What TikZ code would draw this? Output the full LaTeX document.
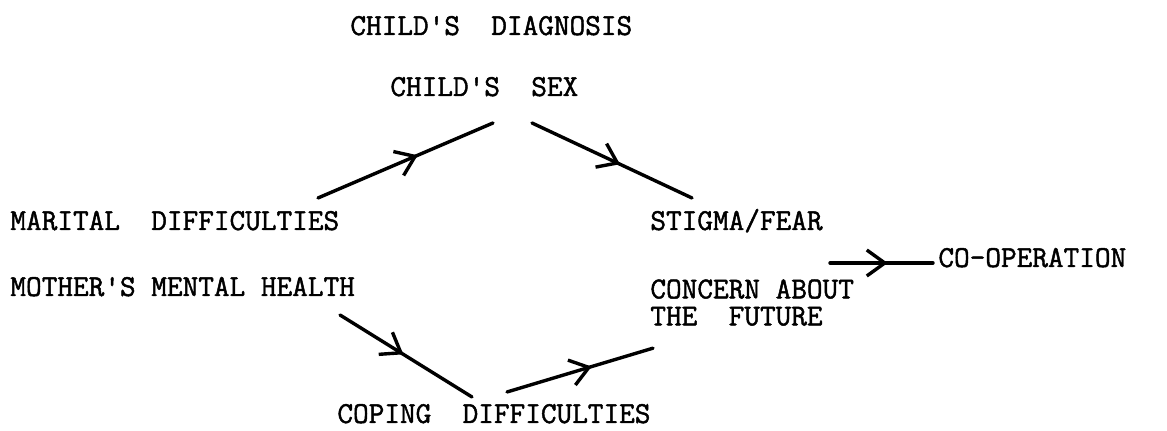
\documentclass[tikz,border=0pt]{standalone}
\usepackage{fontspec}
\setmonofont[RawFeature={embolden=1.5}]{Latin Modern Mono}
\usetikzlibrary{arrows.meta, decorations.markings}

\tikzset{
  label/.style={font=\ttfamily\fontsize{15.2}{13.5}\selectfont, anchor=base west, inner sep=0pt, align=left},
  flow/.style={line width=1.7pt, line cap=round,
    postaction={decorate, decoration={markings,
      mark=at position #1 with {\arrow{Straight Barb[length=9pt, width=13pt]}}}}},
  flow/.default=0.55
}

\begin{document}
\begin{tikzpicture}[x=0.5pt, y=0.5pt]
  \useasboundingbox (0,0) rectangle (1167,431);

  % top
  \node[label] (diag) at (350,396) {CHILD'S~~DIAGNOSIS};
  \node[label] (sex) at (390,335) {CHILD'S~~SEX};

  % left
  \node[label] (marital) at (10,201) {MARITAL~~DIFFICULTIES};
  \node[label] (mother) at (10,135) {MOTHER'S MENTAL HEALTH};

  % right
  \node[label] (stigma) at (650,201) {STIGMA/FEAR};
  \node[label, anchor=north west] (concern) at (650,152) {CONCERN ABOUT\\THE~~FUTURE};
  \node[label] (coop) at (938,164) {CO-OPERATION};

  % bottom
  \node[label] (coping) at (337,8) {COPING~~DIFFICULTIES};

  % arrows
  \draw[flow=0.57] ([shift={(308,32)}]marital.base west) -- ([shift={(103,-27)}]sex.base west);
  \draw[flow] ([shift={(142,-27)}]sex.base west) -- ([shift={(42,32)}]stigma.base west);
  \draw[flow=0.48] ([shift={(330,-19)}]mother.base west) -- ([shift={(135,26)}]coping.base west);
  \draw[flow=0.58] ([shift={(170,31)}]coping.base west) -- ([shift={(3,-22)}]concern.south west);
  \coordinate (merge) at (830,168);
  \draw[flow=0.56] (merge) -- ([shift={(-5,4)}]coop.base west);
\end{tikzpicture}
\end{document}
